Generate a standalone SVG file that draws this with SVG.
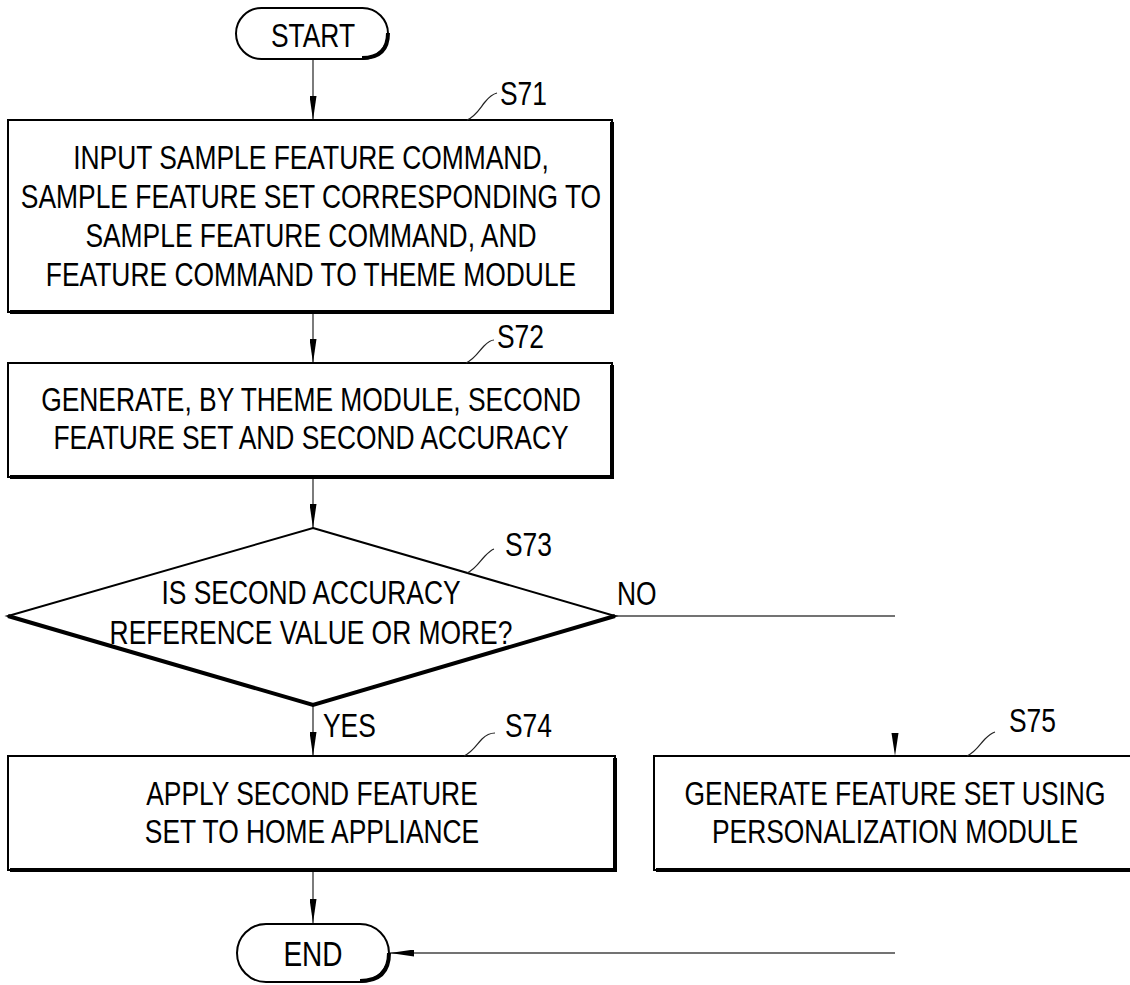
<svg xmlns="http://www.w3.org/2000/svg" width="1130" height="985" viewBox="0 0 1130 985">
<defs>
<style>
.t{font-family:"Liberation Sans",Arial,sans-serif;font-size:33px;fill:#000;text-anchor:middle}
.lb{font-family:"Liberation Sans",Arial,sans-serif;font-size:33px;fill:#000}
.box{fill:#fff;stroke:#000;stroke-width:2}
.sh{fill:none;stroke:#000;stroke-width:4;stroke-linejoin:miter}
.ln{fill:none;stroke:#444;stroke-width:1.4}
.ld{fill:none;stroke:#222;stroke-width:1.2}
</style>
<marker id="ah" viewBox="0 0 24 7" refX="24" refY="3.5" markerWidth="24" markerHeight="7" markerUnits="userSpaceOnUse" orient="auto">
<path d="M0,0 L24,3.5 L0,7 Z" fill="#000"/>
</marker>
</defs>
<rect width="1130" height="985" fill="#fff"/>

<g id="connectors">
<line class="ln" x1="313" y1="59" x2="313" y2="120" marker-end="url(#ah)"/>
<line class="ln" x1="313" y1="312" x2="313" y2="363" marker-end="url(#ah)"/>
<line class="ln" x1="313" y1="477" x2="313" y2="528" marker-end="url(#ah)"/>
<line class="ln" x1="313" y1="705" x2="313" y2="756" marker-end="url(#ah)"/>
<line class="ln" x1="313" y1="870" x2="313" y2="923" marker-end="url(#ah)"/>
<line class="ln" x1="615" y1="616" x2="895" y2="616"/>
<path d="M891.5,733 L898.5,733 L895,756 Z" fill="#000"/>
<line class="ln" x1="895" y1="953" x2="390" y2="953" marker-end="url(#ah)"/>
<text class="lb" transform="translate(323,737) scale(0.8,1)">YES</text>
<text class="lb" transform="translate(617,605) scale(0.8,1)">NO</text>
</g>

<g id="start">
<rect class="box" x="236" y="8" width="152" height="51" rx="25.5"/>
<path class="sh" d="M362,58 Q388,58 388,33"/>
<text class="t" transform="translate(313,47) scale(0.8,1)">START</text>
</g>

<g id="s71">
<rect class="box" x="8" y="120" width="604" height="192"/>
<path class="sh" d="M612,122 L612,312 L10,312"/>
<text class="t" transform="translate(311,169) scale(0.8,1)">INPUT SAMPLE FEATURE COMMAND,</text>
<text class="t" transform="translate(311,208) scale(0.8,1)">SAMPLE FEATURE SET CORRESPONDING TO</text>
<text class="t" transform="translate(311,247) scale(0.8,1)">SAMPLE FEATURE COMMAND, AND</text>
<text class="t" transform="translate(311,286) scale(0.8,1)">FEATURE COMMAND TO THEME MODULE</text>
<path class="ld" d="M467,120 C476,116 480,108 485,102 C489,97 493,94 497,93"/>
<text class="lb" transform="translate(500,105) scale(0.8,1)">S71</text>
</g>

<g id="s72">
<rect class="box" x="8" y="363" width="604" height="114"/>
<path class="sh" d="M612,365 L612,477 L10,477"/>
<text class="t" transform="translate(311,411) scale(0.8,1)">GENERATE, BY THEME MODULE, SECOND</text>
<text class="t" transform="translate(311,449) scale(0.8,1)">FEATURE SET AND SECOND ACCURACY</text>
<path class="ld" d="M466,363 C475,359 479,351 484,346 C488,342 491,340 494,340"/>
<text class="lb" transform="translate(497,348) scale(0.8,1)">S72</text>
</g>

<g id="s73">
<polygon points="313,528 615,616 313,705 8,616" fill="#fff" stroke="#000" stroke-width="2" stroke-linejoin="miter"/>
<path class="sh" d="M615,616 L313,705 L8,616" stroke-width="3.5"/>
<text class="t" transform="translate(311,604) scale(0.8,1)">IS SECOND ACCURACY</text>
<text class="t" transform="translate(311,644) scale(0.8,1)">REFERENCE VALUE OR MORE?</text>
<path class="ld" d="M467,573 C476,569 480,561 485,556 C489,552 491,550 494,549"/>
<text class="lb" transform="translate(505,556) scale(0.8,1)">S73</text>
</g>

<g id="s74">
<rect class="box" x="8" y="756" width="607" height="114"/>
<path class="sh" d="M615,758 L615,870 L10,870"/>
<text class="t" transform="translate(312,805) scale(0.8,1)">APPLY SECOND FEATURE</text>
<text class="t" transform="translate(312,843) scale(0.8,1)">SET TO HOME APPLIANCE</text>
<path class="ld" d="M464,756 C473,752 477,744 482,739 C486,735 491,733 495,733"/>
<text class="lb" transform="translate(505,737) scale(0.8,1)">S74</text>
</g>

<g id="s75">
<rect class="box" x="654" y="756" width="490" height="114"/>
<path class="sh" d="M656,870 L1140,870"/>
<text class="t" transform="translate(895,805) scale(0.8,1)">GENERATE FEATURE SET USING</text>
<text class="t" transform="translate(895,843) scale(0.8,1)">PERSONALIZATION MODULE</text>
<path class="ld" d="M967,756 C976,752 980,744 985,739 C989,735 992,733 995,732"/>
<text class="lb" transform="translate(1009,732) scale(0.8,1)">S75</text>
</g>

<g id="end">
<rect class="box" x="237" y="924" width="152" height="58" rx="29"/>
<path class="sh" d="M360,981 Q389,981 389,953"/>
<text class="t" style="font-size:35px" transform="translate(313,966) scale(0.8,1)">END</text>
</g>
</svg>
